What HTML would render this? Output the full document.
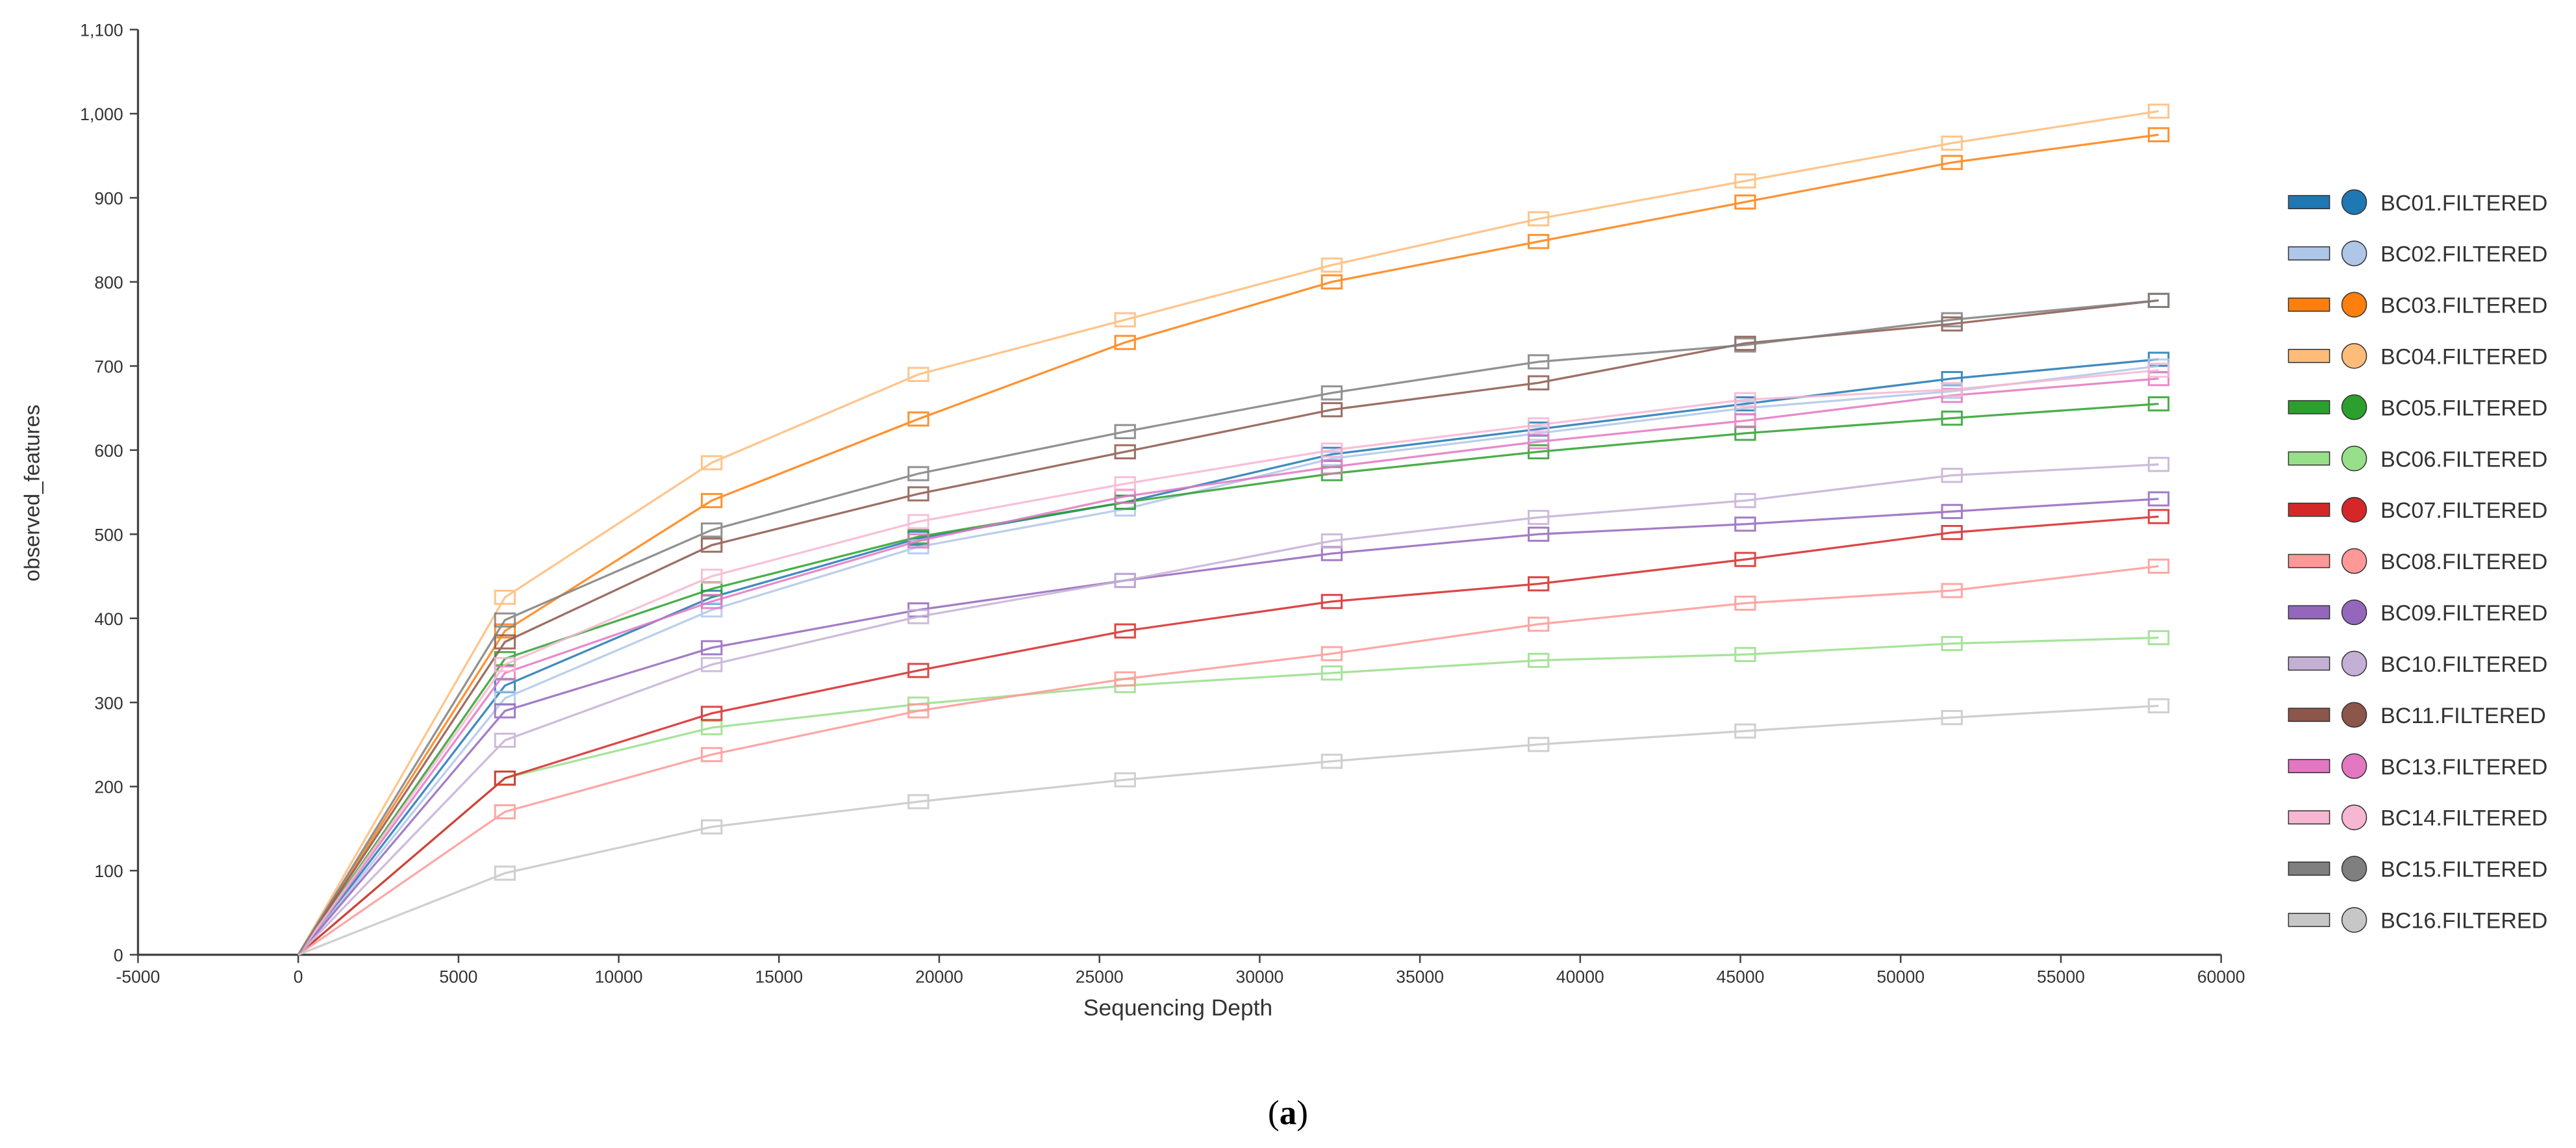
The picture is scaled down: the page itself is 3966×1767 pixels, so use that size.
<!DOCTYPE html>
<html><head><meta charset="utf-8"><style>
html,body{margin:0;padding:0;background:#fff;}
svg{display:block;font-family:"Liberation Sans",sans-serif;}
</style></head><body>
<svg id="chart" width="3966" height="1767" viewBox="0 0 1568 698.6" xmlns="http://www.w3.org/2000/svg">
<g id="axes"></g>
<g id="series"></g>
<g id="legend"></g>
<text x="0" y="0" transform="translate(24,300) rotate(-90)" text-anchor="middle" font-size="13" fill="#333">observed_features</text>
<text x="717" y="618" text-anchor="middle" font-size="14" fill="#333">Sequencing Depth</text>
<text x="784" y="684" text-anchor="middle" font-size="21" font-family="Liberation Serif, serif" fill="#000">(<tspan font-weight="bold">a</tspan>)</text>
</svg>
<script>
const depths = [0,6450,12900,19350,25800,32250,38700,45150,51600,58050];
const sampleNames = ["BC01.FILTERED","BC02.FILTERED","BC03.FILTERED","BC04.FILTERED","BC05.FILTERED","BC06.FILTERED","BC07.FILTERED","BC08.FILTERED","BC09.FILTERED","BC10.FILTERED","BC11.FILTERED","BC13.FILTERED","BC14.FILTERED","BC15.FILTERED","BC16.FILTERED"];
const bc01 = [0,320,425,495,538,595,625,655,685,708];
const bc02 = [0,305,410,485,530,590,620,650,670,700];
const bc03 = [0,385,540,637,728,800,848,895,942,975];
const bc04 = [0,425,585,690,755,820,875,920,965,1003];
const bc05 = [0,352,435,497,538,572,598,620,638,655];
const bc06 = [0,210,270,298,320,335,350,357,370,377];
const bc07 = [0,210,287,338,385,420,441,470,502,521];
const bc08 = [0,170,238,290,328,358,393,418,433,462];
const bc09 = [0,290,365,410,445,477,500,512,527,542];
const bc10 = [0,255,345,402,445,492,520,540,570,583];
const bc11 = [0,372,487,548,598,648,680,727,750,778];
const bc13 = [0,335,420,492,545,580,610,635,665,685];
const bc14 = [0,345,450,515,560,600,630,660,672,695];
const bc15 = [0,398,505,572,622,668,705,725,755,778];
const bc16 = [0,97,152,182,208,230,250,266,282,296];
const xTicks = [-5000,0,5000,10000,15000,20000,25000,30000,35000,40000,45000,50000,55000,60000];
const yTicks = [0,100,200,300,400,500,600,700,800,900,1000,1100];
const yTickLabels = ["0","100","200","300","400","500","600","700","800","900","1,000","1,100"];

const seriesValues = [bc01,bc02,bc03,bc04,bc05,bc06,bc07,bc08,bc09,bc10,bc11,bc13,bc14,bc15,bc16];
const colors = ["#1f77b4","#aec7e8","#ff7f0e","#ffbb78","#2ca02c","#98df8a","#d62728","#ff9896","#9467bd","#c5b0d5","#8c564b","#e377c2","#f7b6d2","#7f7f7f","#c7c7c7"];
const NS="http://www.w3.org/2000/svg";
function xs(v){return 84 + (v+5000)*(1268/65000);}
function ys(v){return 581 - v*(563/1100);}
function mk(tag,attrs,parent){const e=document.createElementNS(NS,tag);for(const k in attrs)e.setAttribute(k,attrs[k]);parent.appendChild(e);return e;}
const axes=document.getElementById('axes');
let ax=mk('line',{x1:xs(-5000),x2:xs(60000),y1:ys(0),y2:ys(0),stroke:'#444','stroke-width':1.3},axes);


let ay=mk('line',{x1:xs(-5000),x2:xs(-5000),y1:ys(0),y2:ys(1100),stroke:'#444','stroke-width':1.3},axes);


xTicks.forEach(t=>{
  const l=mk('line',{x1:xs(t),x2:xs(t),y1:ys(0),y2:ys(0)+5,stroke:'#444','stroke-width':1},axes);
  
  
  const tx=mk('text',{x:xs(t),y:ys(0)+17,'text-anchor':'middle','font-size':10.5,fill:'#333'},axes);
  tx.textContent=String(t);
  
  
});
yTicks.forEach((t,i)=>{
  const l=mk('line',{x1:xs(-5000)-5,x2:xs(-5000),y1:ys(t),y2:ys(t),stroke:'#444','stroke-width':1},axes);
  
  
  const tx=mk('text',{x:xs(-5000)-9,y:ys(t)+4,'text-anchor':'end','font-size':10.5,fill:'#333'},axes);
  tx.textContent=yTickLabels[i];
  
  
});
const sg=document.getElementById('series');
seriesValues.forEach((vals,si)=>{
  const g=mk('g',{opacity:0.85},sg);
  
  
  const pts=vals.map((v,i)=>xs(depths[i])+','+ys(v)).join(' ');
  const pl=mk('polyline',{points:pts,fill:'none',stroke:colors[si],'stroke-width':1.3},g);
  
  
  vals.forEach((v,i)=>{
    if(i===0)return;
    const r=mk('rect',{x:xs(depths[i])-6,y:ys(v)-4,width:12,height:8,fill:'none',stroke:colors[si],'stroke-width':1.2},g);
    
    
  });
});
const lg=document.getElementById('legend');
sampleNames.forEach((n,i)=>{
  const y=123+i*31.2;
  const g=mk('g',{},lg);
  
  
  mk('rect',{x:1393,y:y-4,width:25,height:8,fill:colors[i],stroke:'#333','stroke-width':0.6},g);
  mk('circle',{cx:1433,cy:y,r:7.5,fill:colors[i],stroke:'#333','stroke-width':0.6},g);
  const t=mk('text',{x:1449,y:y+5,'font-size':13.5,fill:'#333'},g);
  t.textContent=n;
});
</script>
</body></html>
